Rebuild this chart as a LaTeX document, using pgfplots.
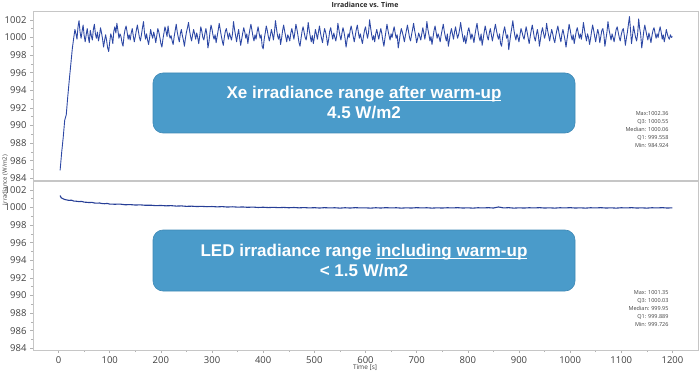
\documentclass[border=0pt]{standalone}
\usepackage{pgfplots}
\pgfplotsset{compat=1.18}
\usepackage{fontspec}
\setmainfont{Open Sans}
\newfontfamily\arialfont{Liberation Sans}
\definecolor{lineblue}{RGB}{45,72,165}
\definecolor{ledblue}{RGB}{38,62,150}
\definecolor{boxblue}{RGB}{74,155,202}
\definecolor{boxedge}{RGB}{62,136,181}
\definecolor{ticktext}{RGB}{64,64,64}
\newcommand\ul[1]{\setbox0\hbox{#1}\rlap{\rule[-2.3pt]{\wd0}{1.2pt}}\box0}
\pgfplotsset{
  panel/.style={
    scale only axis, width=665pt, height=169pt,
    xmin=-50, xmax=1250, ymin=983.8, ymax=1003.0,
    ytick={984,986,...,1002},
    minor y tick num=1,
    axis line style={draw=gray!45, line width=0.6pt},
    tick style={draw=gray!60, line width=0.5pt},
    tick align=outside, major tick length=3pt, minor tick length=2pt,
    ticklabel style={font=\fontsize{9.5}{10}\selectfont, text=ticktext},
    /pgf/number format/assume math mode=true,
    /pgf/number format/1000 sep={},
    xtick pos=bottom, ytick pos=left,
    clip=true,
  }
}
\begin{document}
\begin{tikzpicture}[x=1pt,y=1pt]
\useasboundingbox (0,0) rectangle (700,375);
% top panel (Xe)
\begin{axis}[panel, at={(33pt,195pt)}, anchor=south west,
  xtick=\empty]
\addplot[lineblue, line width=0.9pt, line join=round] coordinates {
(3,984.9)(6,986.9)(9,988.6)(12,990.6)(13,990.8)(15,991.2)(18,993.3)(21,995.2)(24,997.0)(27,998.8)(30,1000.1)(32,1000.9)
(34,1000.4)(36,999.8)(38,1001.2)(40,1001.9)(42,1000.6)(44,999.9)(46,1000.7)(48,1001.4)(50,1000.2)(52,999.5)
(54,1000.3)(56,1001.0)(58,1000.1)(60,999.4)(62,1000.8)(64,1000.2)(66,999.7)(68,1000.9)(70,1001.5)(72,1000.4)
(74,999.9)(76,1000.6)(78,999.6)(80,1000.2)(82,1001.1)(84,1000.5)(86,999.8)(88,998.9)(90,999.7)(92,1000.3)
(94,999.6)(96,998.8)(98,998.4)(100,999.5)(102,1000.4)(104,1000.0)(106,999.3)(108,1000.7)(110,1001.2)(112,1000.5)
(114,1001.6)(116,1000.8)(118,999.9)(120,1000.4)(122,1000.1)(124,999.4)(126,999.0)(128,1000.2)(130,1000.9)(132,1001.3)
(134,1000.6)(136,999.8)(138,1000.3)(140,999.7)(142,1000.5)(144,1001.0)(146,1000.2)(148,999.5)(150,1000.1)(152,1000.8)
(154,1001.4)(156,1000.7)(158,1000.0)(160,999.6)(162,1000.3)(164,1001.1)(166,1001.8)(168,1000.5)(170,999.8)(172,1000.4)
(174,999.7)(176,999.2)(178,1000.0)(180,1000.9)(182,1000.3)(184,999.9)(186,1000.6)(188,1000.1)(190,999.4)(192,1000.2)
(194,1001.0)(196,1000.6)(198,1000.0)(200,999.3)(202,998.9)(204,999.8)(206,1000.5)(208,1001.2)(210,1000.7)(212,1000.1)
(214,1001.3)(216,1000.4)(218,999.9)(220,1000.2)(222,999.6)(224,999.2)(226,1000.1)(228,1000.8)(230,1001.5)(232,1000.6)
(234,1000.0)(236,999.5)(238,1000.4)(240,1000.9)(242,1000.2)(244,999.7)(246,999.0)(248,999.9)(250,1000.6)(252,1001.1)
(254,1001.7)(256,1000.8)(258,1000.1)(260,999.6)(262,1000.3)(264,1000.9)(266,1000.4)(268,999.8)(270,1000.5)(272,1000.0)
(274,999.3)(276,1000.2)(278,1001.2)(280,1000.7)(282,1000.0)(284,999.7)(286,1000.4)(288,1001.0)(290,1000.3)(292,998.8)
(294,999.5)(296,1000.6)(298,1001.4)(300,1000.9)(302,1000.2)(304,999.8)(306,1000.3)(308,999.4)(310,1000.1)(312,1000.8)
(314,1001.6)(316,1000.9)(318,1000.2)(320,999.6)(322,999.1)(324,1000.0)(326,1000.7)(328,1001.0)(330,1000.4)(332,999.8)
(334,1000.5)(336,1000.1)(338,999.7)(340,1000.4)(342,1001.8)(344,1000.9)(346,1000.2)(348,999.5)(350,1000.3)(352,1000.9)
(354,999.9)(356,999.1)(358,999.8)(360,1000.5)(362,1001.1)(364,1000.6)(366,999.9)(368,1000.4)(370,999.3)(372,1000.2)
(374,1000.9)(376,1001.5)(378,1000.8)(380,1000.1)(382,999.6)(384,1000.3)(386,999.8)(388,1000.6)(390,1001.2)(392,1000.5)
(394,999.9)(396,1000.3)(398,999.0)(400,998.7)(402,999.8)(404,1000.5)(406,1001.3)(408,1000.8)(410,1000.1)(412,999.6)
(414,1000.2)(416,1000.9)(418,1000.4)(420,999.7)(422,1000.6)(424,1001.9)(426,1001.0)(428,1000.2)(430,999.8)(432,1000.4)
(434,999.2)(436,999.9)(438,1000.8)(440,1001.4)(442,1000.7)(444,1000.1)(446,999.5)(448,1000.3)(450,1000.0)(452,999.6)
(454,1000.5)(456,1001.0)(458,1000.4)(460,999.8)(462,1000.6)(464,1001.5)(466,1000.9)(468,1000.2)(470,999.4)(472,999.0)
(474,999.9)(476,1000.7)(478,1001.2)(480,1000.6)(482,1000.0)(484,999.7)(486,1000.5)(488,1001.7)(490,1000.8)(492,1000.1)
(494,999.5)(496,1000.2)(498,999.3)(500,1000.0)(502,1000.9)(504,1000.4)(506,999.8)(508,1000.6)(510,1001.3)(512,1000.5)
(514,999.9)(516,999.4)(518,1000.3)(520,1001.0)(522,1000.6)(524,1000.0)(526,999.1)(528,999.8)(530,1000.7)(532,1001.1)
(534,1000.4)(536,999.8)(538,1000.5)(540,1000.0)(542,999.6)(544,1000.3)(546,1001.6)(548,1000.9)(550,1000.2)(552,999.7)
(554,1000.5)(556,1001.1)(558,1000.6)(560,999.9)(562,998.9)(564,999.7)(566,1000.4)(568,1000.0)(570,1000.8)(572,1001.3)
(574,1000.7)(576,1000.1)(578,999.5)(580,1000.2)(582,1000.9)(584,1001.4)(586,1000.6)(588,999.9)(590,1000.4)(592,999.8)
(594,999.3)(596,1000.1)(598,1000.8)(600,1001.2)(602,1000.5)(604,999.9)(606,1000.6)(608,1002.0)(610,1001.1)(612,1000.3)
(614,999.7)(616,1000.2)(618,999.5)(620,1000.4)(622,1000.9)(624,1000.3)(626,999.8)(628,1000.5)(630,1001.0)(632,1000.4)
(634,999.6)(636,999.0)(638,999.9)(640,1000.7)(642,1001.5)(644,1000.8)(646,1000.2)(648,999.7)(650,1000.4)(652,1000.0)
(654,1000.7)(656,1001.2)(658,1000.5)(660,999.9)(662,1000.3)(664,998.8)(666,999.6)(668,1000.4)(670,1001.0)(672,1000.6)
(674,1000.1)(676,999.5)(678,1000.2)(680,1000.8)(682,1001.4)(684,1000.7)(686,1000.0)(688,999.6)(690,1000.3)(692,1000.9)
(694,1001.6)(696,1000.8)(698,1000.2)(700,999.4)(702,999.9)(704,1000.5)(706,1000.1)(708,999.7)(710,1000.4)(712,1001.1)
(714,1000.5)(716,999.8)(718,1000.6)(720,1001.8)(722,1000.9)(724,1000.3)(726,999.6)(728,1000.1)(730,999.2)(732,1000.0)
(734,1000.8)(736,1001.3)(738,1000.6)(740,999.9)(742,1000.4)(744,1000.0)(746,999.5)(748,1000.3)(750,1000.9)(752,1001.5)
(754,1000.7)(756,1000.1)(758,999.6)(760,1000.4)(762,999.0)(764,999.7)(766,1000.5)(768,1001.0)(770,1000.4)(772,999.8)
(774,1000.6)(776,1001.2)(778,1000.5)(780,999.9)(782,1000.3)(784,1000.9)(786,1001.7)(788,1000.8)(790,1000.1)(792,999.5)
(794,1000.2)(796,999.3)(798,999.9)(800,1000.7)(802,1001.1)(804,1000.5)(806,999.8)(808,1000.4)(810,1000.0)(812,999.4)
(814,1000.3)(816,1001.0)(818,1001.6)(820,1000.7)(822,1000.0)(824,999.6)(826,1000.4)(828,999.1)(830,999.8)(832,1000.6)
(834,1001.3)(836,1000.7)(838,1000.1)(840,999.7)(842,1000.5)(844,1001.0)(846,1000.3)(848,999.6)(850,1000.2)(852,1000.9)
(854,1001.5)(856,1000.8)(858,1000.2)(860,999.8)(862,1000.4)(864,999.3)(866,999.0)(868,1000.0)(870,1000.7)(872,1001.2)
(874,1000.5)(876,999.9)(878,1000.3)(880,998.6)(882,999.5)(884,1000.4)(886,1001.1)(888,1001.9)(890,1000.9)(892,1000.2)
(894,999.7)(896,1000.4)(898,1000.0)(900,999.5)(902,1000.3)(904,1001.0)(906,1000.6)(908,1000.1)(910,999.8)(912,1000.5)
(914,1001.2)(916,1000.6)(918,999.9)(920,999.3)(922,1000.1)(924,1000.8)(926,1001.4)(928,1000.7)(930,1000.0)(932,999.6)
(934,1000.3)(936,1000.9)(938,1000.2)(940,999.0)(942,999.8)(944,1000.6)(946,1001.1)(948,1000.5)(950,999.9)(952,1000.4)
(954,1001.6)(956,1000.8)(958,1000.2)(960,999.6)(962,1000.3)(964,1000.9)(966,1000.4)(968,999.8)(970,999.4)(972,1000.2)
(974,1000.8)(976,1001.3)(978,1000.6)(980,1000.0)(982,999.5)(984,1000.4)(986,1000.9)(988,1000.3)(990,999.7)(992,998.9)
(994,999.8)(996,1000.6)(998,1001.5)(1000,1000.9)(1002,1000.2)(1004,999.7)(1006,1000.3)(1008,999.3)(1010,1000.0)(1012,1000.7)
(1014,1001.1)(1016,1000.5)(1018,999.9)(1020,1000.4)(1022,999.8)(1024,1000.6)(1026,1001.7)(1028,1000.9)(1030,1000.2)(1032,999.6)
(1034,1000.4)(1036,1000.0)(1038,999.2)(1040,999.9)(1042,1000.7)(1044,1001.4)(1046,1000.8)(1048,1000.1)(1050,999.5)(1052,1000.3)
(1054,1000.9)(1056,1000.4)(1058,999.4)(1060,1000.1)(1062,1000.8)(1064,1001.0)(1066,1000.3)(1068,999.0)(1070,999.8)(1072,1000.6)
(1074,1001.8)(1076,1000.9)(1078,1000.3)(1080,999.7)(1082,1000.4)(1084,1000.0)(1086,999.5)(1088,1000.2)(1090,1000.9)(1092,1001.2)
(1094,1000.6)(1096,1000.0)(1098,999.6)(1100,1000.3)(1102,1000.8)(1104,1001.0)(1106,1000.2)(1108,999.1)(1110,999.9)(1112,1000.6)
(1114,1001.5)(1116,1002.36)(1118,1000.9)(1120,999.3)(1122,1000.2)(1124,1001.3)(1126,1000.6)(1128,1000.0)(1130,999.6)(1132,1000.4)
(1134,1002.1)(1136,1001.0)(1138,1000.3)(1140,998.8)(1142,999.7)(1144,1000.7)(1146,1001.4)(1148,1000.8)(1150,1000.2)(1152,999.7)
(1154,1000.5)(1156,1000.0)(1158,999.4)(1160,1000.2)(1162,1000.8)(1164,1001.1)(1166,1000.5)(1168,999.9)(1170,1000.4)(1172,1000.0)
(1174,1000.7)(1176,1001.2)(1178,1000.6)(1180,999.8)(1182,1000.3)(1184,999.5)(1186,1000.1)(1188,1000.9)(1190,1000.4)(1192,1000.0)
(1194,999.8)(1196,1000.3)(1198,1000.0)(1200,1000.1)
};
\end{axis}
% bottom panel (LED)
\begin{axis}[panel, at={(33pt,25pt)}, anchor=south west,
  xtick={0,100,...,1200}, minor x tick num=1]
\addplot[ledblue, line width=1.1pt] coordinates {
(3,1001.35)(5,1001.1)(8,1001.0)(12,1000.9)(16,1000.85)(20,1000.8)(25,1000.82)(30,1000.72)(35,1000.7)(40,1000.66)
(45,1000.68)(50,1000.6)(55,1000.58)(60,1000.55)(65,1000.57)(70,1000.5)(75,1000.48)(80,1000.5)(85,1000.44)(90,1000.42)
(95,1000.45)(100,1000.38)(110,1000.36)(120,1000.38)(130,1000.3)(140,1000.32)(150,1000.27)(160,1000.29)(170,1000.24)(180,1000.25)
(190,1000.2)(200,1000.22)(210,1000.18)(220,1000.2)(230,1000.15)(240,1000.17)(250,1000.12)(260,1000.14)(270,1000.1)(280,1000.12)
(290,1000.08)(300,1000.1)(310,1000.06)(320,1000.09)(330,1000.04)(340,1000.07)(350,1000.03)(360,1000.05)(370,1000.01)(380,1000.04)
(390,999.99)(400,1000.02)(410,999.98)(420,1000.01)(430,999.97)(440,1000.0)(450,999.96)(460,999.99)(470,999.95)(480,999.98)
(490,999.94)(500,999.97)(510,999.93)(520,999.97)(530,999.94)(540,999.96)(550,999.92)(560,999.96)(570,999.93)(580,999.97)
(590,999.94)(600,999.95)(610,999.92)(620,999.96)(630,999.93)(640,999.97)(650,999.94)(660,999.96)(670,999.92)(680,999.95)
(690,999.93)(700,999.97)(710,999.94)(720,999.96)(730,999.92)(740,999.95)(750,999.93)(760,999.96)(770,999.94)(780,999.97)
(790,999.93)(800,999.95)(810,999.92)(820,999.96)(830,999.94)(840,999.97)(850,999.93)(860,1000.05)(870,999.94)(880,999.97)
(890,999.92)(900,999.95)(910,999.93)(920,999.96)(930,999.94)(940,999.97)(950,999.93)(960,999.95)(970,999.92)(980,999.96)
(990,999.94)(1000,999.97)(1010,999.93)(1020,999.95)(1030,999.92)(1040,999.96)(1050,999.94)(1060,999.97)(1070,999.93)(1080,999.95)
(1090,999.92)(1100,999.96)(1110,999.94)(1120,999.97)(1130,999.93)(1140,999.95)(1150,999.92)(1160,999.96)(1170,999.94)(1180,999.97)
(1190,999.93)(1200,999.95)
};
\end{axis}
% titles and labels
\node[font=\fontsize{7}{8}\selectfont\bfseries, text=black!85] at (365,370) {Irradiance vs. Time};
\node[font=\fontsize{6.5}{7}\selectfont, text=ticktext] at (365,7) {Time [s]};
\node[font=\fontsize{6}{7}\selectfont, text=ticktext, rotate=90] at (5,195) {Irradiance (W/m2)};
% statistics
\node[anchor=north east, align=right, font=\fontsize{5.5}{8}\selectfont, text=ticktext] at (672,267)
  {Max:1002.36\\Q3: 1000.55\\Median: 1000.06\\Q1: 999.558\\Min: 984.924};
\node[anchor=north east, align=right, font=\fontsize{5.5}{8}\selectfont, text=ticktext] at (672,88)
  {Max: 1001.35\\Q3: 1000.03\\Median: 999.95\\Q1: 999.889\\Min: 999.726};
% annotation boxes
\filldraw[fill=boxblue, draw=boxedge, line width=0.6pt, rounded corners=10pt] (153,242) rectangle (575,302);
\node[align=center, text=white, font=\arialfont\bfseries\fontsize{17}{20}\selectfont] at (364,272)
  {Xe irradiance range \ul{after warm-up}\\4.5 W/m2};
\filldraw[fill=boxblue, draw=boxedge, line width=0.6pt, rounded corners=10pt] (153,84) rectangle (575,145);
\node[align=center, text=white, font=\arialfont\bfseries\fontsize{17}{20}\selectfont] at (364,114.5)
  {LED irradiance range \ul{including warm-up}\\< 1.5 W/m2};
\end{tikzpicture}
\end{document}
